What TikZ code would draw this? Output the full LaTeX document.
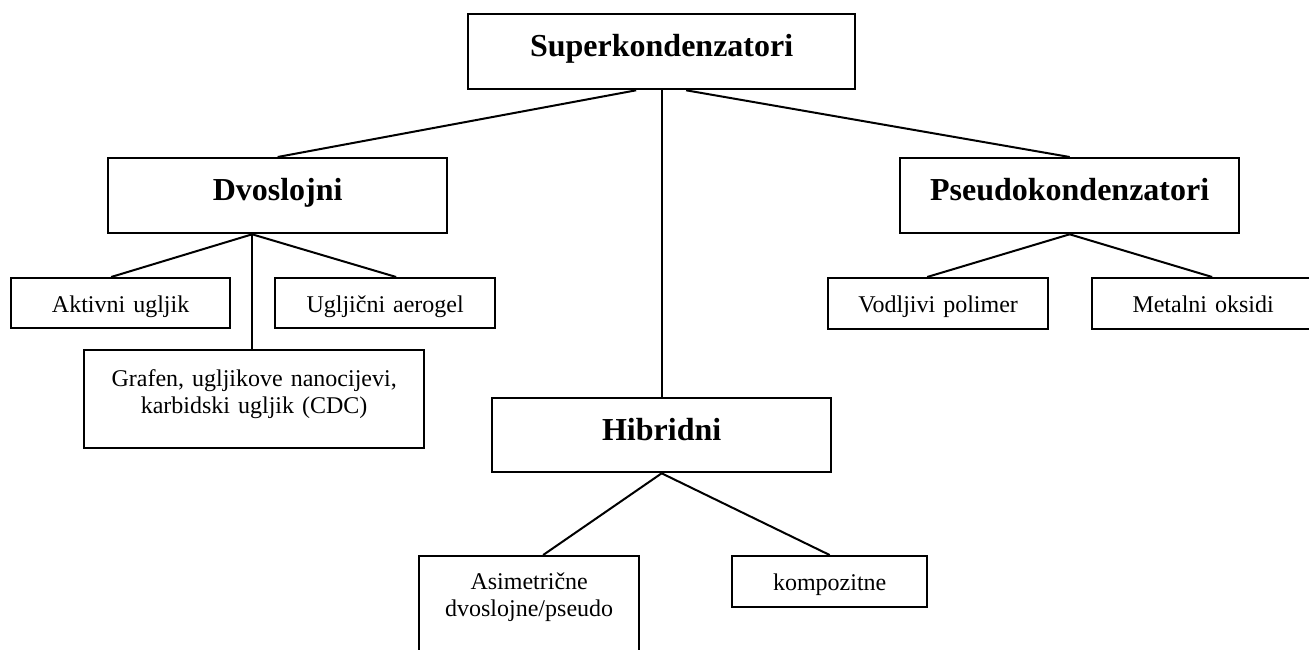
\documentclass[tikz,border=0pt]{standalone}
\usepackage{fontspec}
\setmainfont{Liberation Serif}
\tikzset{
  box/.style={draw, line width=2.3pt, inner sep=0pt, anchor=north west, align=center},
  head/.style={box, font=\fontsize{32}{36.8}\selectfont\bfseries, text height=42pt, text depth=33pt},
  leaf/.style={box, font=\fontsize{24}{27.6}\selectfont, text height=34pt, text depth=16pt},
  link/.style={line width=2pt}
}

\begin{document}
\begin{tikzpicture}[x=1pt,y=-1pt]

  \useasboundingbox (0,0) rectangle (1309,650);
  \clip (0,0) rectangle (1309,650);

  % top
  \node[head, text width=387pt] (sup) at (467,13) {Superkondenzatori};

  % second level
  \node[head, text width=339pt] (dvo) at (107,157) {Dvoslojni};
  \node[head, text width=339pt] (pse) at (899,157) {Pseudokondenzatori};
  \node[head, text width=339pt, text depth=32pt] (hib) at (491,397) {Hibridni};

  % leaves
  \node[leaf, text width=219pt] (akt) at (10,277) {Aktivni ugljik};
  \node[leaf, text width=220pt] (aer) at (274,277) {Ugljični aerogel};
  \node[leaf, text width=340pt, text height=36pt, text depth=62pt] (gra) at (83,349)
    {Grafen, ugljikove nanocijevi,\\karbidski ugljik (CDC)};
  \node[leaf, text width=220pt, text depth=17pt] (vod) at (827,277) {Vodljivi polimer};
  \node[leaf, text width=222pt, text depth=17pt] (met) at (1091,277) {Metalni oksidi};
  \node[leaf, text width=220pt, text height=33pt, text depth=80pt] (asi) at (418,555)
    {Asimetrične\\dvoslojne/pseudo};
  \node[leaf, text width=195pt, text depth=17pt] (kom) at (731,555) {kompozitne};

  \draw[link] ([xshift=-25.5pt]sup.south) -- (dvo.north);
  \draw[link] (sup.south) -- (hib.north);
  \draw[link] ([xshift=24.5pt]sup.south) -- (pse.north);

  \draw[link] ([xshift=-25.5pt]dvo.south) -- ([xshift=-9.5pt]akt.north);
  \draw[link] ([xshift=-25.5pt]dvo.south) -- ([xshift=11pt]aer.north);
  \draw[link] ([xshift=-25.5pt]dvo.south) -- ([xshift=-2pt]gra.north);

  \draw[link] (pse.south) -- ([xshift=-11pt]vod.north);
  \draw[link] (pse.south) -- ([xshift=9pt]met.north);

  \draw[link] (hib.south) -- ([xshift=14pt]asi.north);
  \draw[link] (hib.south) -- (kom.north);

\end{tikzpicture}
\end{document}
